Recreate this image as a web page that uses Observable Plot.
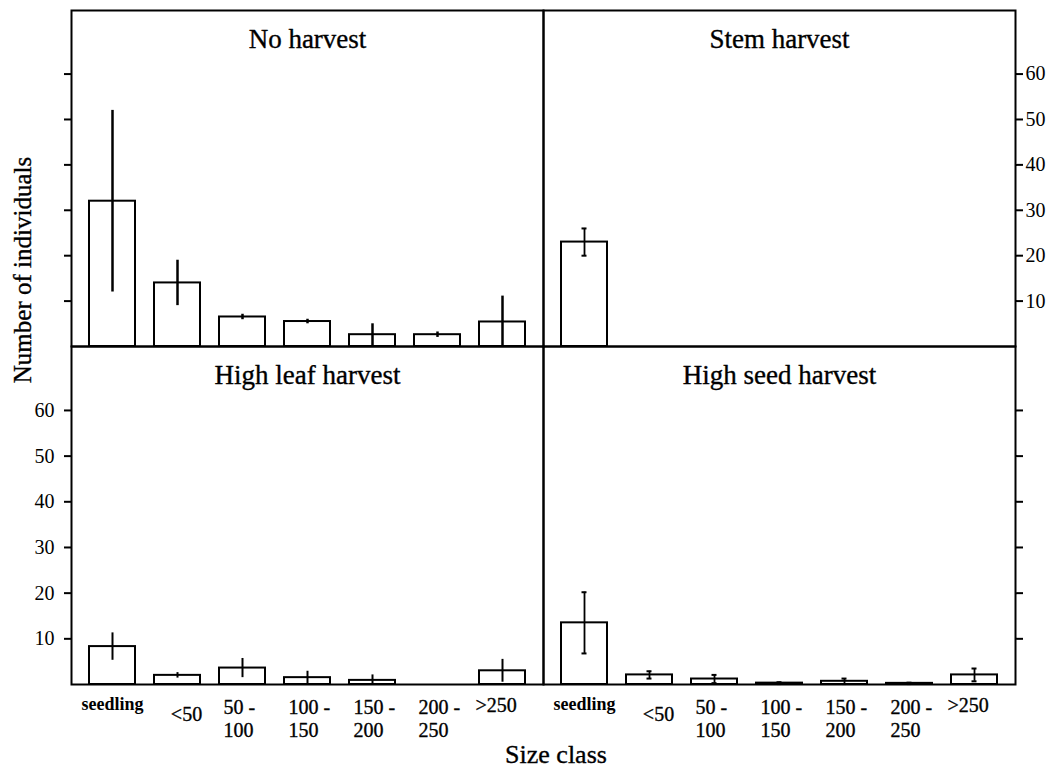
<!DOCTYPE html>
<html>
<head>
<meta charset="utf-8">
<script src="https://cdn.jsdelivr.net/npm/d3@7"></script>
<script src="https://cdn.jsdelivr.net/npm/@observablehq/plot@0.6"></script>
<style>
  html, body { margin: 0; padding: 0; background: #fff; }
  #chart { position: relative; width: 1053px; height: 769px; background: #fff; overflow: hidden;
           font-family: 'Liberation Serif', 'Times New Roman', serif; color: #000; }
  .panel { position: absolute; }
  .ylabel { position: absolute; left: 23px; top: 270px; transform: translate(-50%, -50%) rotate(-90deg);
            font-size: 25px; white-space: nowrap; -webkit-text-stroke: 0.35px #000; }
  .xlabel { position: absolute; left: 556px; top: 742px; transform: translateX(-50%);
            font-size: 26px; white-space: nowrap; line-height: 1; -webkit-text-stroke: 0.35px #000; }
</style>
</head>
<body>
<div id="chart">
  <div class="ylabel">Number of individuals</div>
  <div class="xlabel">Size class</div>
</div>
<script>
// ---- data ----
const categories = ["seedling", "<50", "50-100", "100-150", "150-200", "200-250", ">250"];
const tickLabels = ["seedling", "<50", "50 -\n100", "100 -\n150", "150 -\n200", "200 -\n250", ">250"];
const panelTitles = ["No harvest", "Stem harvest", "High leaf harvest", "High seed harvest"];
const yTicks = [10, 20, 30, 40, 50, 60];

const noHarvestMean = [32, 14, 6.5, 5.5, 2.6, 2.6, 5.4];
const noHarvestErr  = [20, 5, 0.6, 0.5, 2.4, 0.6, 5.7];
const stemMean = [23, null, null, null, null, null, null];
const stemErr  = [3, null, null, null, null, null, null];
const leafMean = [8.3, 2.0, 3.6, 1.5, 0.9, 0, 3.0];
const leafErr  = [3.0, 0.6, 2.1, 1.4, 1.2, 0, 2.5];
const seedMean = [13.5, 2.1, 1.2, 0.3, 0.7, 0.25, 2.1];
const seedErr  = [6.7, 0.8, 0.9, 0.2, 0.6, 0.15, 1.4];

// ---- drawing ----
const FONT = "'Liberation Serif', 'Times New Roman', serif";
const TS = {stroke: "black", strokeWidth: 0.35, fill: "black"};

function makePanel({mean, err, title, side, labels, xLabels, errWidth, caps,
                    width, height, mL, mR, mT, mB}) {
  const rows = categories.map((c, i) => ({cat: c, label: tickLabels[i], mean: mean[i], err: err[i], i}))
    .filter(d => d.mean != null);
  const allRows = categories.map((c, i) => ({cat: c, label: tickLabels[i], i}));
  const marks = [
    Plot.barY(rows, {x: "cat", y: "mean", fill: "white", stroke: "black", strokeWidth: 2}),
    Plot.ruleX(rows.filter(d => d.err > 0), {
      x: "cat", y1: d => Math.max(0, d.mean - d.err), y2: d => d.mean + d.err,
      stroke: "black", strokeWidth: errWidth
    }),
    Plot.axisY({
      anchor: side, ticks: yTicks, tickSize: 7, tickPadding: side === "left" ? 10 : 3,
      tickFormat: labels ? (d => String(d)) : (() => ""), label: null,
      fontSize: 20, strokeWidth: 2
    }),
    Plot.frame({stroke: "black", strokeWidth: 2}),
    Plot.text([title], {frameAnchor: "top", lineAnchor: "top", dy: 18, fontSize: 27, ...TS})
  ];
  if (caps) {
    const rr = rows.filter(d => d.err > 0);
    marks.push(
      Plot.tickY(rr, {x: "cat", y: d => d.mean + d.err, insetLeft: 20.5, insetRight: 20.5, strokeWidth: 2}),
      Plot.tickY(rr.filter(d => d.mean - d.err > 0), {x: "cat", y: d => d.mean - d.err, insetLeft: 20.5, insetRight: 20.5, strokeWidth: 2})
    );
  }
  if (xLabels) {
    marks.push(
      Plot.text(allRows.filter(d => d.i === 0), {
        x: "cat", text: "label", frameAnchor: "bottom", lineAnchor: "top", dy: 13,
        fontSize: 18, fontWeight: "bold", textAnchor: "middle", fill: "black"
      }),
      Plot.text(allRows.filter(d => d.i === 1), {
        x: "cat", text: "label", frameAnchor: "bottom", lineAnchor: "top", dy: 22, dx: 9,
        fontSize: 20, textAnchor: "middle", ...TS
      }),
      Plot.text(allRows.filter(d => d.i >= 2 && d.i <= 5), {
        x: "cat", text: "label", frameAnchor: "bottom", lineAnchor: "top", dy: 13, dx: -19,
        fontSize: 20, lineHeight: 1.15, textAnchor: "start", ...TS
      }),
      Plot.text(allRows.filter(d => d.i === 6), {
        x: "cat", text: "label", frameAnchor: "bottom", lineAnchor: "top", dy: 13, dx: -27,
        fontSize: 20, textAnchor: "start", ...TS
      })
    );
  }
  return Plot.plot({
    width, height, marginLeft: mL, marginRight: mR, marginTop: mT, marginBottom: mB,
    x: {domain: categories, paddingInner: 0.3, paddingOuter: 0.25, axis: null},
    y: {domain: [0, 74]},
    style: {fontFamily: FONT, fontSize: "20px", overflow: "visible", background: "transparent", color: "black"},
    marks
  });
}

const chart = document.getElementById("chart");
const specs = [
  {left: 0, top: 0, mean: noHarvestMean, err: noHarvestErr, title: panelTitles[0], side: "left", labels: false,
   xLabels: false, errWidth: 2.5, caps: false, width: 543, height: 346, mL: 71, mR: 0, mT: 10, mB: 0},
  {left: 543, top: 0, mean: stemMean, err: stemErr, title: panelTitles[1], side: "right", labels: true,
   xLabels: false, errWidth: 1.8, caps: true, width: 510, height: 346, mL: 0, mR: 38, mT: 10, mB: 0},
  {left: 0, top: 346, mean: leafMean, err: leafErr, title: panelTitles[2], side: "left", labels: true,
   xLabels: true, errWidth: 2, caps: false, width: 543, height: 423, mL: 71, mR: 0, mT: 0, mB: 85},
  {left: 543, top: 346, mean: seedMean, err: seedErr, title: panelTitles[3], side: "right", labels: false,
   xLabels: true, errWidth: 1.8, caps: true, width: 510, height: 423, mL: 0, mR: 38, mT: 0, mB: 85}
];
for (const s of specs) {
  const wrap = document.createElement("div");
  wrap.className = "panel";
  wrap.style.left = s.left + "px";
  wrap.style.top = s.top + "px";
  wrap.appendChild(makePanel(s));
  chart.appendChild(wrap);
}
</script>
</body>
</html>
